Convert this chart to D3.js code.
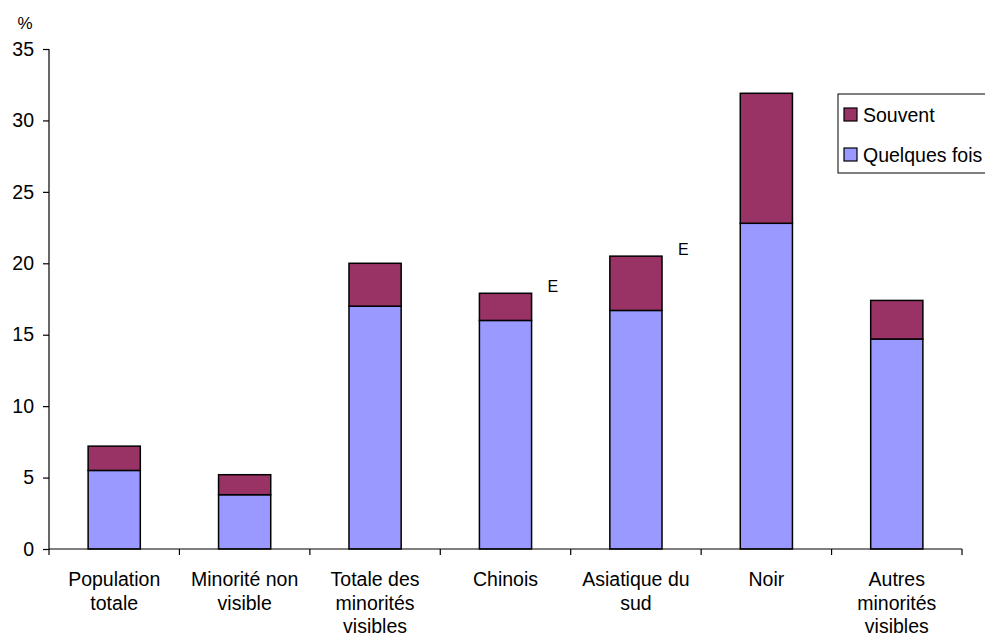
<!DOCTYPE html>
<html>
<head>
<meta charset="utf-8">
<script src="https://cdn.jsdelivr.net/npm/d3@7"></script>
<style>
  html, body { margin: 0; padding: 0; background: #fff; }
  svg { display: block; }
  text { font-family: "Liberation Sans", Arial, Helvetica, sans-serif; fill: #000; }
</style>
</head>
<body>
<svg id="chart" width="985" height="635"></svg>
<script>
// Categories and the two stacked series (percent)
const categories = [
  "Population totale",
  "Minorité non visible",
  "Totale des minorités visibles",
  "Chinois",
  "Asiatique du sud",
  "Noir",
  "Autres minorités visibles"
];
const quelquesFois = [5.5, 3.8, 17.0, 16.0, 16.7, 22.8, 14.7];
const souvent      = [1.7, 1.4, 3.0, 1.9, 3.8, 9.1, 2.7];
// Estimates flagged "E" (use with caution)
const flags = ["", "", "", "E", "E", "", ""];
const yTicks = [0, 5, 10, 15, 20, 25, 30, 35];
const seriesNames = ["Quelques fois", "Souvent"];
const seriesColors = ["#9999FF", "#993366"];

const svg = d3.select("#chart");
const margin = { left: 49, right: 23, top: 49, bottom: 86 };
const W = 985, H = 635;
const FS = 19.5;

const x = d3.scaleBand()
  .domain(categories)
  .range([margin.left, W - margin.right])
  .paddingInner(0.6)
  .paddingOuter(0.3);

const y = d3.scaleLinear()
  .domain([0, 35])
  .range([H - margin.bottom, margin.top]);

const rows = categories.map((c, i) => ({
  cat: c, "Quelques fois": quelquesFois[i], "Souvent": souvent[i], flag: flags[i]
}));
const stacked = d3.stack().keys(seriesNames)(rows);

// Bars
const layers = svg.append("g").selectAll("g")
  .data(stacked)
  .join("g")
  .attr("fill", (d, i) => seriesColors[i]);

layers.selectAll("rect")
  .data(d => d)
  .join("rect")
  .attr("x", d => x(d.data.cat))
  .attr("width", x.bandwidth())
  .attr("y", d => y(d[1]))
  .attr("height", d => y(d[0]) - y(d[1]))
  .attr("stroke", "#000")
  .attr("stroke-width", 1.5);

// Y axis
const yAxis = svg.append("g")
  .attr("transform", `translate(${margin.left},0)`)
  .call(d3.axisLeft(y).tickValues(yTicks).tickSize(6).tickPadding(9).tickFormat(d3.format("d")));
yAxis.select(".domain").attr("stroke", "#000").attr("stroke-width", 1.2).attr("d", `M0,${y(35)}V${y(0)}`);
yAxis.selectAll(".tick line").attr("stroke", "#000").attr("stroke-width", 1.2);
yAxis.selectAll(".tick text")
  .style("font-family", '"Liberation Sans", Arial, sans-serif')
  .style("font-size", FS + "px").attr("fill", "#000");

// X axis: line with ticks at category boundaries
const xg = svg.append("g");
xg.append("line")
  .attr("x1", margin.left).attr("x2", W - margin.right)
  .attr("y1", y(0)).attr("y2", y(0))
  .attr("stroke", "#000").attr("stroke-width", 1.2);
const step = (W - margin.right - margin.left) / categories.length;
xg.selectAll("line.tk")
  .data(d3.range(categories.length + 1))
  .join("line")
  .attr("class", "tk")
  .attr("x1", i => margin.left + i * step).attr("x2", i => margin.left + i * step)
  .attr("y1", y(0)).attr("y2", y(0) + 6)
  .attr("stroke", "#000").attr("stroke-width", 1.2);

// Category labels, wrapped to fit the band
const labels = xg.selectAll("text.cat")
  .data(categories)
  .join("text")
  .attr("class", "cat")
  .attr("text-anchor", "middle")
  .attr("font-size", FS)
  .attr("x", d => x(d) + x.bandwidth() / 2)
  .attr("y", y(0) + 37);

labels.each(function (d) {
  const t = d3.select(this);
  const words = d.split(" ");
  const cx = x(d) + x.bandwidth() / 2;
  let lines = [], line = [];
  const probe = t.append("tspan");
  words.forEach(w => {
    const tryLine = line.concat(w).join(" ");
    probe.text(tryLine);
    if (probe.node().getComputedTextLength() > 120 && line.length) {
      lines.push(line.join(" "));
      line = [w];
    } else {
      line.push(w);
    }
  });
  lines.push(line.join(" "));
  probe.remove();
  lines.forEach((l, k) => {
    t.append("tspan").attr("x", cx).attr("dy", k === 0 ? 0 : 23.5).text(l);
  });
});

// "E" flags beside the estimated bars
svg.append("g").selectAll("text")
  .data(rows.filter(r => r.flag))
  .join("text")
  .attr("x", d => x(d.cat) + x.bandwidth() + 16)
  .attr("y", d => y(d["Quelques fois"] + d["Souvent"]) - 1)
  .attr("font-size", 16)
  .text(d => d.flag);

// Unit label
svg.append("text")
  .attr("x", 25).attr("y", 29)
  .attr("text-anchor", "middle")
  .attr("font-size", 17)
  .text("%");

// Legend
const lg = svg.append("g").attr("transform", "translate(838,94)");
lg.append("rect")
  .attr("width", 160).attr("height", 79)
  .attr("fill", "#fff").attr("stroke", "#000").attr("stroke-width", 1);
const legendItems = [
  { name: "Souvent", color: seriesColors[1] },
  { name: "Quelques fois", color: seriesColors[0] }
];
const li = lg.selectAll("g.item")
  .data(legendItems)
  .join("g")
  .attr("class", "item")
  .attr("transform", (d, i) => `translate(6,${14 + i * 40})`);
li.append("rect")
  .attr("width", 13).attr("height", 13)
  .attr("fill", d => d.color)
  .attr("stroke", "#000").attr("stroke-width", 1.2);
li.append("text")
  .attr("x", 19).attr("y", 13.5)
  .attr("font-size", FS)
  .text(d => d.name);
</script>
</body>
</html>
